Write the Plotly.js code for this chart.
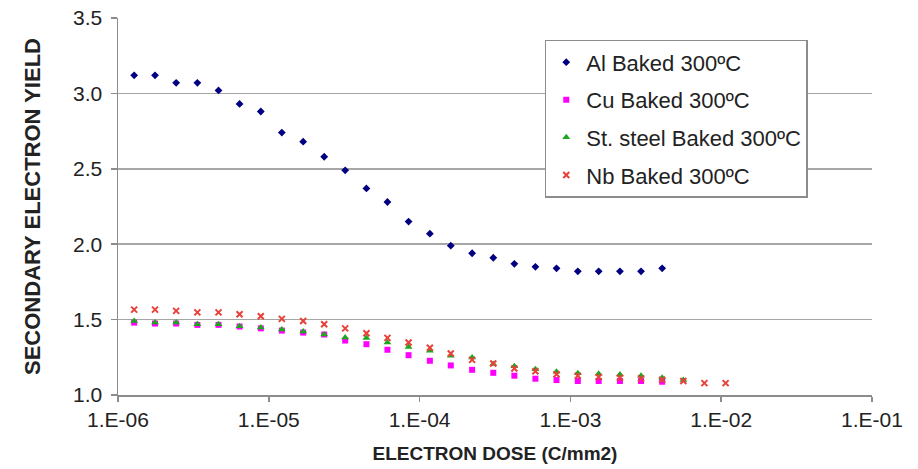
<!DOCTYPE html>
<html>
<head>
<meta charset="utf-8">
<script src="https://cdn.plot.ly/plotly-3.0.1.min.js"></script>
<style>html,body{margin:0;padding:0;background:#fff;}#chart{width:918px;height:469px;}</style>
</head>
<body>
<div id="chart"></div>
<script>
// Electron dose (C/mm2), one value per measurement step
const dose = [1.28e-6, 1.76e-6, 2.43e-6, 3.36e-6, 4.64e-6, 6.40e-6, 8.85e-6, 1.22e-5, 1.69e-5, 2.33e-5,
              3.21e-5, 4.44e-5, 6.12e-5, 8.45e-5, 1.17e-4, 1.61e-4, 2.23e-4, 3.08e-4, 4.25e-4, 5.86e-4,
              8.09e-4, 1.12e-3, 1.54e-3, 2.13e-3, 2.94e-3, 4.06e-3, 5.61e-3, 7.74e-3, 1.07e-2];

const alYield = [3.12, 3.12, 3.07, 3.07, 3.02, 2.93, 2.88, 2.74, 2.68, 2.58,
                 2.49, 2.37, 2.28, 2.15, 2.07, 1.99, 1.94, 1.91, 1.87, 1.85,
                 1.84, 1.82, 1.82, 1.82, 1.82, 1.84];

const cuYield = [1.480, 1.474, 1.474, 1.465, 1.465, 1.454, 1.442, 1.427, 1.414, 1.401,
                 1.361, 1.337, 1.300, 1.264, 1.227, 1.196, 1.167, 1.147, 1.128, 1.108,
                 1.099, 1.093, 1.093, 1.093, 1.093, 1.088];

const steelYield = [1.491, 1.480, 1.480, 1.469, 1.469, 1.456, 1.447, 1.434, 1.421, 1.401,
                    1.381, 1.378, 1.348, 1.319, 1.293, 1.260, 1.249, 1.205, 1.191, 1.171,
                    1.154, 1.145, 1.141, 1.136, 1.128, 1.114, 1.099];

const nbYield = [1.566, 1.566, 1.558, 1.548, 1.548, 1.535, 1.522, 1.505, 1.491, 1.469,
                 1.442, 1.409, 1.379, 1.348, 1.313, 1.275, 1.233, 1.209, 1.176, 1.158,
                 1.138, 1.128, 1.119, 1.114, 1.110, 1.101, 1.093, 1.079, 1.079];

const seriesNames = ["Al Baked 300ºC", "Cu Baked 300ºC", "St. steel Baked 300ºC", "Nb Baked 300ºC"];
const xTickVals = [1e-6, 1e-5, 1e-4, 1e-3, 1e-2, 1e-1];
const xTickText = ["1.E-06", "1.E-05", "1.E-04", "1.E-03", "1.E-02", "1.E-01"];
const yTickVals = [1.0, 1.5, 2.0, 2.5, 3.0, 3.5];

const F = "Liberation Sans, Arial, sans-serif";

const traces = [
  {x: dose.slice(0, alYield.length), y: alYield, name: seriesNames[0], legendgroup: "g1", type: "scatter", mode: "markers",
   marker: {symbol: "diamond", color: "#000080", size: 6}},
  {x: dose.slice(0, cuYield.length), y: cuYield, name: seriesNames[1], legendgroup: "g2", type: "scatter", mode: "markers",
   marker: {symbol: "square", color: "#ff00ff", size: 6}},
  {x: dose.slice(0, steelYield.length), y: steelYield, name: seriesNames[2], legendgroup: "g3", type: "scatter", mode: "markers",
   marker: {symbol: "triangle-up", color: "#1fa51f", size: 7}},
  {x: dose.slice(0, nbYield.length), y: nbYield, name: seriesNames[3], legendgroup: "g4", type: "scatter", mode: "markers",
   marker: {symbol: "x-thin", color: "#e8403a", size: 6, line: {color: "#e8403a", width: 2}}}
];

const layout = {
  width: 918, height: 469,
  margin: {l: 118, r: 46, t: 18, b: 74, pad: 0},
  paper_bgcolor: "#ffffff", plot_bgcolor: "#ffffff",
  font: {family: F, color: "#222222", size: 21},
  showlegend: true,
  legend: {
    x: 0.566, y: 0.942, xanchor: "left", yanchor: "top",
    bgcolor: "#ffffff", bordercolor: "#8c8c8c", borderwidth: 1.5,
    font: {family: F, size: 22, color: "#222222"},
    itemsizing: "trace", itemwidth: 30,
    traceorder: "grouped", tracegroupgap: 6
  },
  xaxis: {
    type: "log", range: [-6, -1],
    tickmode: "array", tickvals: xTickVals, ticktext: xTickText,
    ticks: "outside", ticklen: 5, tickcolor: "#8c8c8c", tickwidth: 1.5,
    showline: true, linecolor: "#8c8c8c", linewidth: 1.5,
    showgrid: false, zeroline: false,
    tickfont: {family: F, size: 21, color: "#222222"},
    title: {text: "<b>ELECTRON DOSE (C/mm2)</b>", font: {family: F, size: 19, color: "#222222"}, standoff: 17}
  },
  yaxis: {
    range: [1.0, 3.5],
    tickmode: "array", tickvals: yTickVals, tickformat: ".1f",
    ticks: "outside", ticklen: 6, tickcolor: "#8c8c8c", tickwidth: 1.5,
    ticklabelstandoff: 4,
    showline: true, linecolor: "#8c8c8c", linewidth: 1.5,
    showgrid: true, gridcolor: "#a6a6a6", gridwidth: 1.5,
    zeroline: false,
    tickfont: {family: F, size: 21, color: "#222222"},
    title: {text: "<b>SECONDARY ELECTRON YIELD</b>", font: {family: F, size: 22, color: "#222222"}, standoff: 26}
  }
};

Plotly.newPlot("chart", traces, layout, {displayModeBar: false, staticPlot: true});
</script>
</body>
</html>
